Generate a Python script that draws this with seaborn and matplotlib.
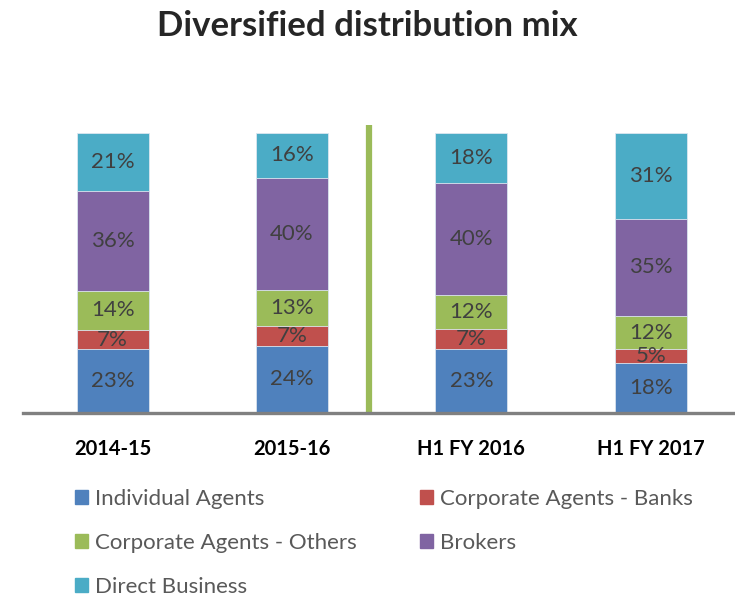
import numpy as np
import pandas as pd
import matplotlib.pyplot as plt
import seaborn as sns

# dados
periodos = ['2014-15', '2015-16', 'H1 FY 2016', 'H1 FY 2017']
series = ['Individual Agents', 'Corporate Agents - Banks', 'Corporate Agents - Others',
          'Brokers', 'Direct Business']
individual = [23, 24, 23, 18]
bancos = [7, 7, 7, 5]
outros = [14, 13, 12, 12]
brokers = [36, 40, 40, 35]
direto = [21, 16, 18, 31]
cores = ['#4F81BD', '#C0504D', '#9BBB59', '#8064A2', '#4BACC6']

sns.set_style('white')
plt.rcParams['font.family'] = ['Lato', 'DejaVu Sans']

df = pd.DataFrame([individual, bancos, outros, brokers, direto], index=series, columns=periodos)
# 100% empilhado
norm = df / df.sum(axis=0)
cum = norm.cumsum(axis=0)

fig = plt.figure(figsize=(7.35, 5.98), dpi=100)
ax = fig.add_axes([23 / 735, 185 / 598, 712 / 735, 288 / 598])

# desenha do topo para baixo (barras sobrepostas)
for s, cor in reversed(list(zip(series, cores))):
    d = pd.DataFrame({'periodo': periodos, 'valor': cum.loc[s].values})
    sns.barplot(data=d, x='periodo', y='valor', color=cor, width=0.40, saturation=1,
                edgecolor='#dce6f0', linewidth=0.6, ax=ax, zorder=2)
handles = {s: plt.Rectangle((0, 0), 1, 1, color=c) for s, c in zip(series, cores)}

# rótulos
for s in series:
    for i, p in enumerate(periodos):
        y = cum.loc[s, p] - norm.loc[s, p] / 2
        ax.text(i, y, f"{df.loc[s, p]}%", ha='center', va='center',
                fontsize=16, color='#404040')

ax.set_xlim(-0.5, 3.47)
ax.set_ylim(0, 1.0286)
ax.axvline(1.43, ymin=0, ymax=1, color='#9BBB59', linewidth=4.5, zorder=1)

ax.set_yticks([])
ax.set_xlabel('')
ax.set_ylabel('')
sns.despine(ax=ax, left=True)
ax.spines['bottom'].set_color('#808080')
ax.spines['bottom'].set_linewidth(2.4)
ax.tick_params(axis='x', length=0, pad=18.5)
for t in ax.get_xticklabels():
    t.set_fontweight('bold')
    t.set_fontsize(14.5)
    t.set_color('black')

fig.text(0.5, 1 - 26 / 598, 'Diversified distribution mix', ha='center', va='center',
         fontsize=25, fontweight='bold')

# legenda preenchida por linha
ordem = ['Individual Agents', 'Corporate Agents - Others', 'Direct Business',
         'Corporate Agents - Banks', 'Brokers']
fig.legend([handles[s] for s in ordem], ordem, loc='upper left',
           bbox_to_anchor=(75 / 735, 1 - 489 / 598),
           ncol=2, frameon=False, fontsize=16, labelcolor='#595959',
           handlelength=0.6, handleheight=0.6, handletextpad=0.3,
           columnspacing=2.85, labelspacing=1.07, borderaxespad=0, borderpad=0)
plt.savefig('out.png', dpi=100)
